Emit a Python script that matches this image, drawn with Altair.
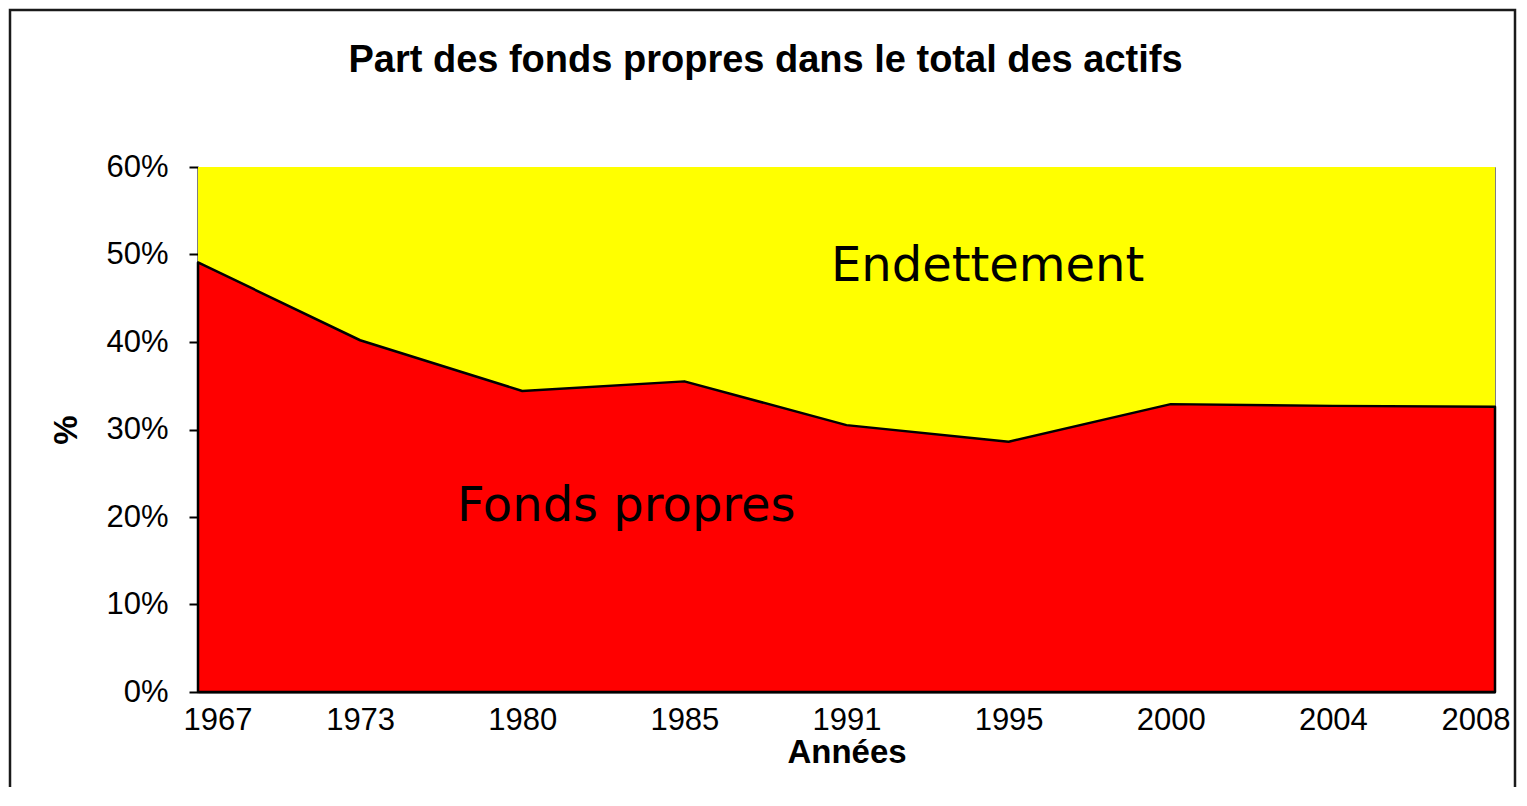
import altair as alt
import pandas as pd

years = ["1967", "1973", "1980", "1985", "1991", "1995", "2000", "2004", "2008"]
fonds_propres = [0.491, 0.402, 0.344, 0.355, 0.305, 0.286, 0.329, 0.327, 0.326]
y_ticks = [0, 0.1, 0.2, 0.3, 0.4, 0.5, 0.6]

label_text = ["Endettement", "Fonds propres"]
label_year = ["1995", "1980"]
label_y = [0.47, 0.195]
label_dx = [-21, 104]

df = pd.DataFrame({"year": years, "fp": fonds_propres})
labels = pd.DataFrame({"text": label_text, "year": label_year, "y": label_y})

W, H = 1297, 525

x_enc = alt.X(
    "year:O",
    sort=years,
    scale=alt.Scale(type="point", padding=0),
    axis=alt.Axis(
        title="Années", labelAngle=0, ticks=False, labelPadding=13,
        labelFontSize=31, labelFont="Liberation Sans", labelColor="black",
        titleFontSize=33, titleFont="Liberation Sans", titleFontWeight="bold",
        titleColor="black", titlePadding=1, domainColor="black", domainWidth=2,
        labelBaseline="top", labelFlush=True, labelFlushOffset=15,
    ),
)
y_scale = alt.Scale(domain=[0, 0.6], nice=False, zero=True)

yellow = alt.Chart(df).mark_area(color="#FFFF00", clip=True).encode(
    x=x_enc,
    y=alt.Y(
        "fp:Q", scale=y_scale,
        axis=alt.Axis(
            title="%", values=y_ticks, format=".0%", grid=False,
            tickSize=9, tickColor="black", tickWidth=2, labelPadding=21,
            labelFontSize=31, labelFont="Liberation Sans", labelColor="black",
            titleFontSize=33, titleFont="Liberation Sans", titleFontWeight="bold",
            titleColor="black", titlePadding=22, domainColor="black", domainWidth=2,
        ),
    ),
    y2=alt.datum(1.0),
)

red = alt.Chart(df).mark_area(
    color="#FF0000", stroke="black", strokeWidth=2.5, strokeJoin="round"
).encode(
    x=alt.X("year:O", sort=years),
    y=alt.Y("fp:Q"),
)

text_layers = [
    alt.Chart(labels.iloc[[i]]).mark_text(
        font="DejaVu Sans", fontSize=48, color="black", align="center",
        baseline="alphabetic", dx=int(label_dx[i])
    ).encode(x=alt.X("year:O", sort=years), y=alt.Y("y:Q"), text="text:N")
    for i in range(len(label_text))
]

frame = alt.Chart(alt.Data(values=[{"a": 1}])).mark_rect(
    fill=None, stroke="#1a1a1a", strokeWidth=2.5
).encode(
    x=alt.value(-188), x2=alt.value(1317), y=alt.value(-157), y2=alt.value(680)
)

chart = alt.layer(yellow, red, *text_layers, frame).properties(
    width=W, height=H,
    background="white",
    title=alt.TitleParams(
        "Part des fonds propres dans le total des actifs",
        fontSize=38, font="Liberation Sans", fontWeight="bold", color="black",
        anchor="middle", dx=-81, offset=-101, baseline="alphabetic", frame="group",
    ),
    autosize=alt.AutoSizeParams(type="none"),
    padding={"left": 190, "top": 159, "right": 22, "bottom": 95},
).configure_view(
    stroke="#808080", strokeWidth=1
)

chart.save("out.html", embed_options={"renderer": "svg", "actions": False})
